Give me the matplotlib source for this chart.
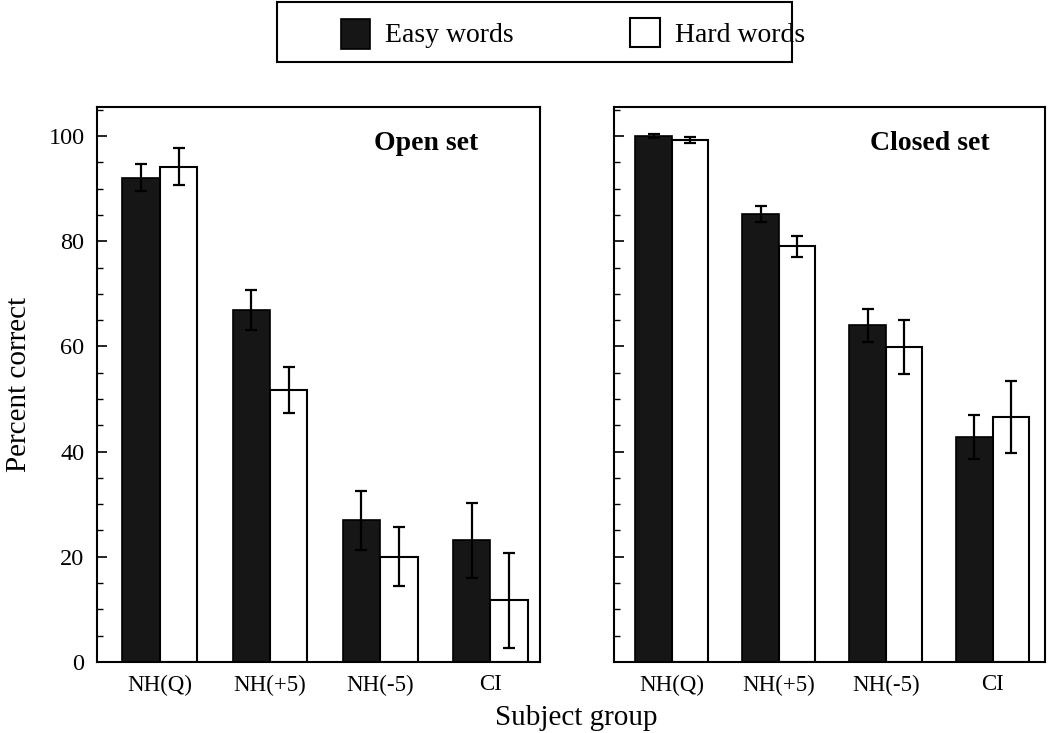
import matplotlib
matplotlib.use("Agg")
import matplotlib.pyplot as plt
import numpy as np
from matplotlib.patches import Rectangle
from matplotlib.ticker import MultipleLocator

plt.rcParams['font.family'] = ['Liberation Serif', 'DejaVu Serif']

groups = ["NH(Q)", "NH(+5)", "NH(-5)", "CI"]
open_easy = [92.1, 67.0, 26.9, 23.1]
open_easy_err = [2.5, 3.8, 5.6, 7.1]
open_hard = [94.2, 51.7, 20.0, 11.7]
open_hard_err = [3.5, 4.3, 5.6, 9.1]
closed_easy = [100.0, 85.1, 64.0, 42.7]
closed_easy_err = [0.3, 1.5, 3.1, 4.2]
closed_hard = [99.2, 79.0, 59.9, 46.6]
closed_hard_err = [0.6, 1.95, 5.1, 6.9]
panel_titles = ["Open set", "Closed set"]
legend_labels = ["Easy words", "Hard words"]

fig = plt.figure(figsize=(10.5, 7.33), dpi=100)
ax1 = fig.add_axes([0.0924, 0.0969, 0.4219, 0.757])
ax2 = fig.add_axes([0.5848, 0.0969, 0.4105, 0.757])

w = 0.34
x = np.arange(len(groups))
data = [(open_easy, open_easy_err, open_hard, open_hard_err),
        (closed_easy, closed_easy_err, closed_hard, closed_hard_err)]
xlims = [(-0.57, 3.45), (-0.54, 3.49)]
title_x = [0.86, 0.872]

for ax, (e, ee, h, he), title, xl, tx in zip([ax1, ax2], data, panel_titles, xlims, title_x):
    ax.bar(x - w / 2, e, w, color='#161616', edgecolor='black', linewidth=1.2, zorder=2)
    ax.bar(x + w / 2, h, w, color='white', edgecolor='black', linewidth=1.5, zorder=2)
    ax.errorbar(x - w / 2, e, yerr=ee, fmt='none', ecolor='black', elinewidth=1.6,
                capsize=4, capthick=1.6, zorder=3)
    ax.errorbar(x + w / 2, h, yerr=he, fmt='none', ecolor='black', elinewidth=1.6,
                capsize=4, capthick=1.6, zorder=3)
    ax.set_xlim(*xl)
    ax.set_ylim(0, 105.5)
    ax.set_xticks(x)
    ax.set_xticklabels(groups, fontsize=16.5)
    ax.tick_params(axis='x', length=0, pad=9)
    ax.yaxis.set_major_locator(MultipleLocator(20))
    ax.yaxis.set_minor_locator(MultipleLocator(5))
    ax.tick_params(axis='y', which='major', direction='in', length=7, width=1.2, labelsize=17.5, pad=9)
    ax.tick_params(axis='y', which='minor', direction='in', length=4, width=1.0)
    for s in ax.spines.values():
        s.set_linewidth(1.5)
    ax.text(tx, 0.935, title, transform=ax.transAxes, ha='right', va='center',
            fontsize=20, fontweight='bold')

ax2.set_yticklabels([])
ax1.set_ylabel("Percent correct", fontsize=21, labelpad=12)
fig.text(0.549, 0.021, "Subject group", ha='center', va='center', fontsize=21)

# Legend drawn in figure coordinates
fig.patches.append(Rectangle((0.2638, 0.9154), 0.4905, 0.0819, transform=fig.transFigure,
                             facecolor='white', edgecolor='black', linewidth=1.5))
fig.patches.append(Rectangle((0.3248, 0.9332), 0.0276, 0.0409, transform=fig.transFigure,
                             facecolor='#161616', edgecolor='black', linewidth=1.2))
fig.patches.append(Rectangle((0.6000, 0.9359), 0.0286, 0.0396, transform=fig.transFigure,
                             facecolor='white', edgecolor='black', linewidth=1.5))
fig.text(0.3667, 0.951, legend_labels[0], ha='left', va='center', fontsize=20)
fig.text(0.6429, 0.951, legend_labels[1], ha='left', va='center', fontsize=20)

fig.savefig("out.png", dpi=100)
